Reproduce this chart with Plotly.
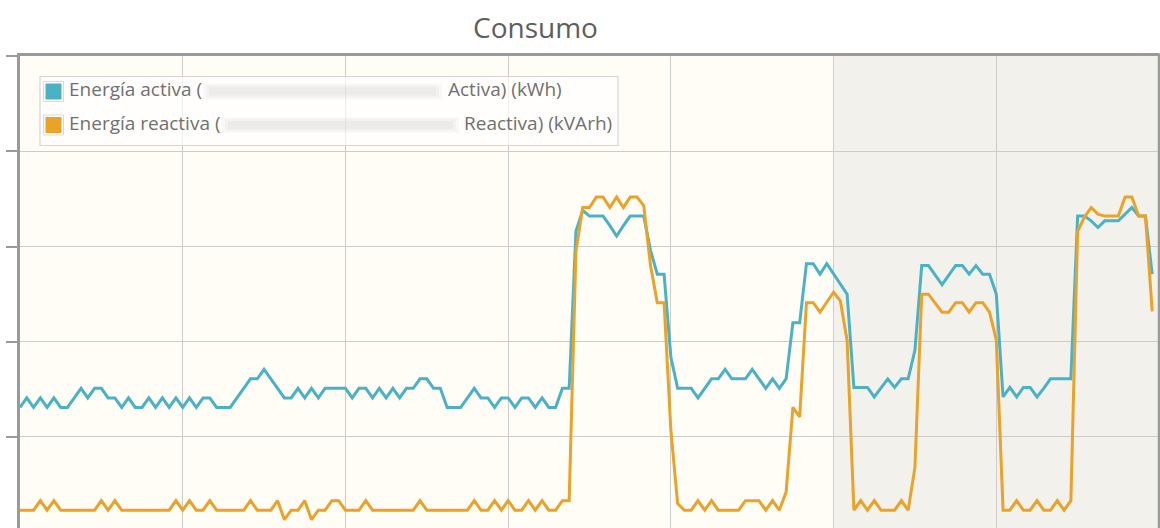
import pandas as pd
import plotly.graph_objects as go

# ---------------- data (hourly values, one week) ----------------
start_day = "2021-03-01"  # Monday
hours = pd.date_range(start_day, periods=168, freq="h")

activa_kwh = [
    13.1, 14.1, 13.1, 14.1, 13.1, 14.1, 13.1, 13.1, 14.1, 15.1,
    14.1, 15.1, 15.1, 14.1, 14.1, 13.1, 14.1, 13.1, 13.1, 14.1,
    13.1, 14.1, 13.1, 14.1, 13.1, 14.1, 13.1, 14.1, 14.1, 13.1,
    13.1, 13.1, 14.1, 15.1, 16.1, 16.1, 17.1, 16.1, 15.1, 14.1,
    14.1, 15.1, 14.1, 15.1, 14.1, 15.1, 15.1, 15.1, 15.1, 14.1,
    15.1, 15.1, 14.1, 15.1, 14.1, 15.1, 14.1, 15.1, 15.1, 16.1,
    16.1, 15.1, 15.1, 13.1, 13.1, 13.1, 14.1, 15.1, 14.1, 14.1,
    13.1, 14.1, 14.1, 13.1, 14.1, 14.1, 13.1, 14.1, 13.1, 13.1,
    15.1, 15.1, 31.6, 33.8, 33.2, 33.2, 33.2, 32.2, 31.1, 32.2,
    33.2, 33.2, 33.2, 29.6, 27.1, 27.1, 18.4, 15.1, 15.1, 15.1,
    14.1, 15.1, 16.1, 16.1, 17.1, 16.1, 16.1, 16.1, 17.1, 16.1,
    15.1, 16.1, 15.1, 16.1, 22.0, 22.0, 28.2, 28.2, 27.1, 28.2,
    27.1, 26.0, 25.0, 15.2, 15.2, 15.2, 14.2, 15.2, 16.1, 15.2,
    16.1, 16.1, 19.1, 28.0, 28.0, 27.0, 26.0, 27.0, 28.0, 28.0,
    27.1, 28.0, 27.1, 27.1, 25.0, 14.2, 15.2, 14.2, 15.2, 15.2,
    14.2, 15.1, 16.1, 16.1, 16.1, 16.1, 33.2, 33.2, 32.7, 32.0,
    32.7, 32.7, 32.7, 33.4, 34.1, 33.2, 33.2, 27.1,
]

reactiva_kvarh = [
    2.3, 2.3, 2.3, 3.3, 2.3, 3.3, 2.3, 2.3, 2.3, 2.3,
    2.3, 2.3, 3.3, 2.3, 3.3, 2.3, 2.3, 2.3, 2.3, 2.3,
    2.3, 2.3, 2.3, 3.3, 2.3, 3.3, 2.3, 2.3, 3.3, 2.3,
    2.3, 2.3, 2.3, 2.3, 3.3, 2.3, 2.3, 2.3, 3.3, 1.3,
    2.3, 2.3, 3.3, 1.3, 2.3, 2.3, 3.3, 3.3, 2.3, 2.3,
    2.3, 3.3, 2.3, 2.3, 2.3, 2.3, 2.3, 2.3, 2.3, 3.3,
    2.3, 2.3, 2.3, 2.3, 2.3, 2.3, 2.3, 3.3, 2.3, 2.3,
    3.3, 2.3, 3.3, 2.3, 2.3, 3.3, 2.3, 3.3, 2.3, 2.3,
    3.3, 3.3, 29.5, 34.1, 34.1, 35.2, 35.2, 34.1, 35.2, 34.1,
    35.2, 35.2, 34.3, 28.0, 24.1, 24.1, 10.7, 3.0, 2.3, 2.3,
    3.3, 2.3, 3.3, 2.3, 2.3, 2.3, 2.3, 3.3, 3.3, 3.3,
    2.3, 3.3, 2.3, 4.2, 13.1, 12.1, 24.1, 24.1, 23.1, 24.1,
    25.2, 24.3, 20.1, 2.3, 3.3, 2.3, 3.3, 2.3, 2.3, 2.3,
    3.3, 2.3, 6.8, 25.0, 25.0, 24.0, 23.1, 23.1, 24.1, 24.1,
    23.1, 24.1, 24.1, 23.1, 20.2, 2.3, 2.3, 3.3, 2.3, 2.3,
    3.3, 2.3, 2.3, 3.3, 2.3, 3.3, 31.6, 33.1, 34.1, 33.4,
    33.2, 33.2, 33.2, 35.2, 35.2, 33.2, 33.2, 23.2,
]

series_names = [
    "Energía activa (",
    "Energía reactiva (",
]
series_tails = [
    "Activa) (kWh)",
    "Reactiva) (kVArh)",
]
series_colors = ["#4bb2c5", "#eaa228"]
title_text = "Consumo"

weekend_start = "2021-03-06"
week_end = "2021-03-08"

# ---------------- layout geometry ----------------
W, H = 1160, 528
L, R, T, B = 20, 1, 56, 0
PW, PH = W - L - R, H - T - B
FONT = "Open Sans"


def px(x):
    return (x - L) / PW


def py(y):
    return (H - B - y) / PH


fig = go.Figure()
for vals, name, color in zip([activa_kwh, reactiva_kvarh], series_names, series_colors):
    fig.add_trace(go.Scatter(
        x=hours, y=vals, mode="lines", name=name, showlegend=False,
        line=dict(color=color, width=3), hoverinfo="x+y",
    ))

shapes = [
    # weekend shading
    dict(type="rect", xref="x", yref="paper", x0=weekend_start, x1=week_end,
         y0=0, y1=1, fillcolor="#f2f1ec", line=dict(width=0), layer="below"),
    # right border
    dict(type="line", xref="paper", yref="paper", x0=1.0, x1=1.0, y0=0, y1=py(53.5),
         line=dict(color="#9a9a9a", width=2.5)),
    # legend box
    dict(type="rect", xref="paper", yref="paper", x0=px(40), x1=px(618),
         y0=py(145.5), y1=py(76.5), fillcolor="rgba(255,255,255,0.65)",
         line=dict(color="#d6d6d6", width=1.2)),
]

legend_rows_y = [91.5, 125]
for (row_y, color) in zip(legend_rows_y, series_colors):
    shapes.append(dict(type="rect", xref="paper", yref="paper",
                       x0=px(43.5), x1=px(63.5), y0=py(row_y + 10), y1=py(row_y - 10),
                       fillcolor="rgba(255,255,255,0)", line=dict(color="#dadada", width=1)))
    shapes.append(dict(type="rect", xref="paper", yref="paper",
                       x0=px(45.5), x1=px(61.5), y0=py(row_y + 8), y1=py(row_y - 8),
                       fillcolor=color, line=dict(width=0)))

# blurred (redacted) part of legend labels
blur_spans = [(203, 442), (222, 459)]
for (row_y, (bx0, bx1)) in zip(legend_rows_y, blur_spans):
    for k, a in enumerate([0.06, 0.06, 0.07]):
        shapes.append(dict(type="rect", xref="paper", yref="paper",
                           x0=px(bx0 + 3 * k), x1=px(bx1 - 3 * k),
                           y0=py(row_y + 8 - 2 * k), y1=py(row_y - 8 + 2 * k),
                           fillcolor=f"rgba(150,150,150,{a})", line=dict(width=0)))

annotations = [
    dict(text=title_text, xref="paper", yref="paper", x=px(535), y=py(27),
         xanchor="center", yanchor="middle", showarrow=False,
         font=dict(family=FONT, size=28, color="#5e5e5e")),
]
tail_x = [446, 462]
for row_y, name, tail, tx in zip(legend_rows_y, series_names, series_tails, tail_x):
    annotations.append(dict(text=name, xref="paper", yref="paper", x=px(67), y=py(row_y - 2.5),
                            xanchor="left", yanchor="middle", showarrow=False,
                            font=dict(family=FONT, size=19, color="#707070")))
    annotations.append(dict(text=tail, xref="paper", yref="paper", x=px(tx), y=py(row_y - 2.5),
                            xanchor="left", yanchor="middle", showarrow=False,
                            font=dict(family=FONT, size=19, color="#707070")))

fig.update_layout(
    width=W, height=H,
    margin=dict(l=L, r=R, t=T, b=B, pad=0),
    paper_bgcolor="white",
    plot_bgcolor="#fffdf6",
    showlegend=False,
    shapes=shapes,
    annotations=annotations,
    xaxis=dict(
        type="date", range=[start_day, week_end], side="top",
        tick0=start_day, dtick=86400000, showticklabels=False, ticks="",
        showgrid=True, gridcolor="#cccccc", gridwidth=1,
        showline=True, linecolor="#9a9a9a", linewidth=2.5, zeroline=False,
    ),
    yaxis=dict(
        range=[0.43, 50.02], tick0=0, dtick=10, showticklabels=False,
        ticks="outside", ticklen=11, tickwidth=1.5, tickcolor="#9a9a9a",
        showgrid=True, gridcolor="#cccccc", gridwidth=1,
        showline=True, linecolor="#9a9a9a", linewidth=2.5, zeroline=False,
    ),
)

fig.write_html(
    "out.html",
    config={"displayModeBar": False},
    post_script="document.body.style.margin='0';document.body.style.overflow='hidden';",
)
